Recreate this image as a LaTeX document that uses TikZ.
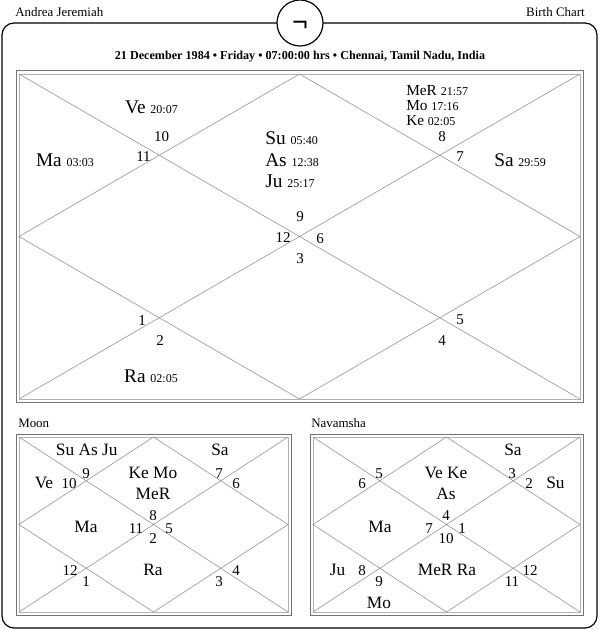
\documentclass[tikz,border=0pt]{standalone}
\usepackage{fontspec}
\setmainfont{Liberation Serif}
\newcommand{\lng}[1]{{\fontsize{9}{10}\selectfont #1}}

\begin{document}
\begin{tikzpicture}[
  x=0.75pt, y=-0.75pt,
  frame/.style={draw=black, line width=0.9pt},
  rimo/.style={draw=black!55, line width=0.75pt},
  rimi/.style={draw=black!30, line width=0.6pt},
  cline/.style={draw=black!42, line width=0.45pt},
  head/.style={font=\fontsize{9.7}{11}\selectfont, inner sep=0pt},
  pl/.style={font=\fontsize{14.5}{16}\selectfont, anchor=base, inner sep=0pt},
  pls/.style={font=\fontsize{11.5}{13}\selectfont, anchor=base west, inner sep=0pt},
  sp/.style={font=\fontsize{13}{15}\selectfont, anchor=base, inner sep=0pt},
  hn/.style={font=\fontsize{11.25}{13}\selectfont, anchor=base, inner sep=0pt},
]
  \useasboundingbox (0,0) rectangle (600,630);

  % --- Frame and badge ---
  \draw[frame, rounded corners=9pt] (2,23) rectangle (597,628);
  \node[circle, draw, line width=0.9pt, fill=white, minimum size=34.5pt,
        inner sep=0pt] (badge) at (300,23) {};
  \node[font=\fontsize{21}{24}\selectfont\bfseries, inner sep=0pt]
    (sym) at (300,26) {¬};

  \node[head, anchor=base west] (name) at (15,17) {Andrea Jeremiah};
  \node[head, anchor=base east] (kind) at (585,17) {Birth Chart};
  \node[head, anchor=base, font=\fontsize{9.1}{11}\selectfont\bfseries]
    (date) at (300,59.5)
    {21 December 1984 • Friday • 07:00:00 hrs • Chennai, Tamil Nadu, India};

  % --- Chart grids (m = Rasi, o = Moon, n = Navamsha) ---
  \foreach \c/\xa/\ya/\xb/\yb in {m/19/74/580/399, o/19/437/288/612,
                                  n/313/437/580/612} {
    \coordinate (\c nw) at (\xa,\ya);
    \coordinate (\c ne) at (\xb,\ya);
    \coordinate (\c se) at (\xb,\yb);
    \coordinate (\c sw) at (\xa,\yb);
    \coordinate (\c n) at ({(\xa+\xb)/2},\ya);
    \coordinate (\c e) at (\xb,{(\ya+\yb)/2});
    \coordinate (\c s) at ({(\xa+\xb)/2},\yb);
    \coordinate (\c w) at (\xa,{(\ya+\yb)/2});
    \draw[rimo] (\xa-3,\ya-3) rectangle (\xb+3,\yb+3);
    \draw[rimi] (\c nw) rectangle (\c se);
    \draw[cline] (\c nw) -- (\c se) (\c ne) -- (\c sw);
    \draw[cline] (\c n) -- (\c e) -- (\c s) -- (\c w) -- cycle;
  }

  \node[head, anchor=base west] (moon) at (18,427) {Moon};
  \node[head, anchor=base west] (nava) at (311,427) {Navamsha};

  % ======== Rasi chart ========
  \node[pl] (mVe) at (151.5,114) {Ve \lng{20:07}};
  \node[pl] (mMa) at (65,167) {Ma \lng{03:03}};
  \node[pl, anchor=base west] (mSu) at (265,145) {Su \lng{05:40}};
  \node[pl, anchor=base west] (mAs) at (265,167) {As \lng{12:38}};
  \node[pl, anchor=base west] (mJu) at (265,188) {Ju \lng{25:17}};
  \node[pls] (mMeR) at (406,95.5) {MeR \lng{21:57}};
  \node[pls] (mMo) at (406,110.5) {Mo \lng{17:16}};
  \node[pls] (mKe) at (406,125.5) {Ke \lng{02:05}};
  \node[pl, anchor=base west] (mSa) at (494,167) {Sa \lng{29:59}};
  \node[pl] (mRa) at (151,382) {Ra \lng{02:05}};

  \foreach \h/\x/\y in {1/142/325, 2/160/345, 3/300/263.5, 4/442/345,
                        5/460/324.5, 6/320/244, 7/460/162, 8/442/142,
                        9/300/222, 10/161.5/142, 11/143.5/162, 12/283/243}
    \node[hn] (m\h) at (\x,\y) {\h};

  % ======== Moon chart ========
  \node[sp] (oSuAsJu) at (86.7,455.7) {Su As Ju};
  \node[sp] (oSa) at (220,455.7) {Sa};
  \node[sp] (oVe) at (44,488.3) {Ve};
  \node[sp] (oKeMo) at (153,478.3) {Ke Mo};
  \node[sp] (oMeR) at (153,499.3) {MeR};
  \node[sp] (oMa) at (86,532.3) {Ma};
  \node[sp] (oRa) at (153,575) {Ra};

  \foreach \h/\x/\y in {1/86/586.7, 2/153/543.3, 3/219/586.7, 4/236/575,
                        5/169/533.3, 6/236/488.3, 7/219/478.3, 8/153/520,
                        9/86/478.3, 10/69/488.3, 11/136/533.3, 12/70/575}
    \node[hn] (o\h) at (\x,\y) {\h};

  % ======== Navamsha chart ========
  \node[sp] (nSa) at (513,455.7) {Sa};
  \node[sp] (nVeKe) at (446,478.3) {Ve Ke};
  \node[sp] (nAs) at (446,499.3) {As};
  \node[sp] (nSu) at (555.5,488.3) {Su};
  \node[sp] (nMa) at (380,532.3) {Ma};
  \node[sp] (nJu) at (337.5,575) {Ju};
  \node[sp] (nMeRRa) at (447,575) {MeR Ra};
  \node[sp] (nMo) at (379,608.3) {Mo};

  \foreach \h/\x/\y in {1/462/533.3, 2/529/488.3, 3/512/478.3, 4/446/520,
                        5/379/478.3, 6/362/488.3, 7/429/533.3, 8/362/575,
                        9/379/586.7, 10/446/543.3, 11/512/586.7, 12/530/575}
    \node[hn] (n\h) at (\x,\y) {\h};

\end{tikzpicture}
\end{document}
